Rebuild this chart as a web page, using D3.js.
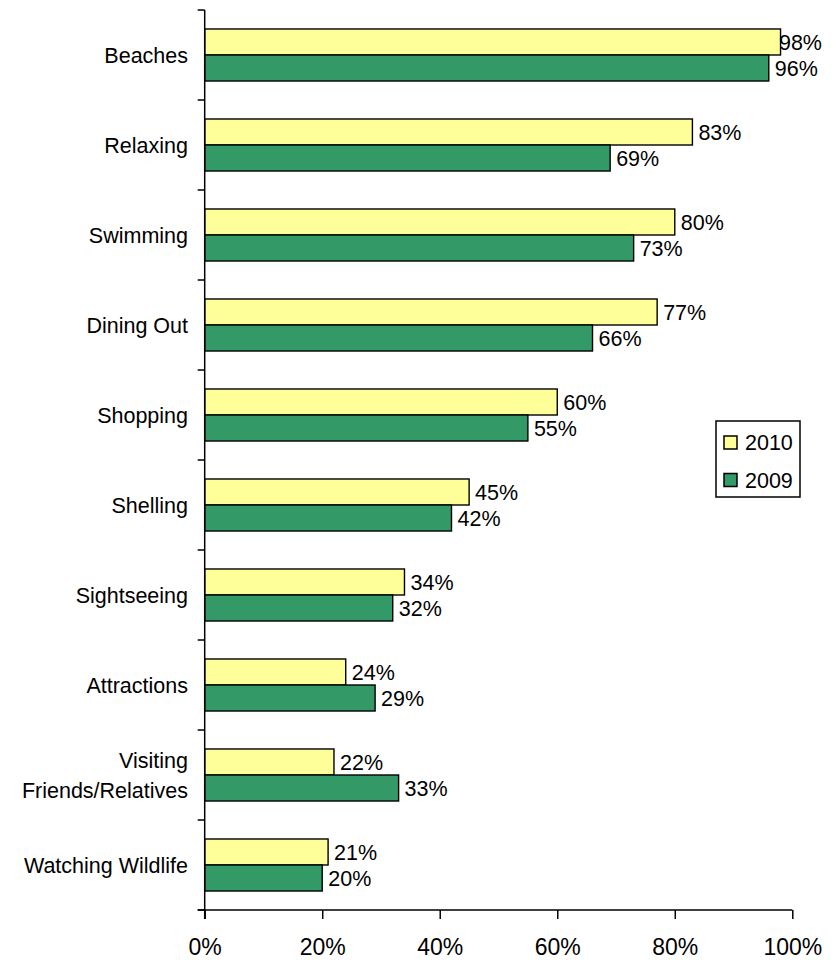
<!DOCTYPE html>
<html>
<head>
<meta charset="utf-8">
<script src="https://cdn.jsdelivr.net/npm/d3@7/dist/d3.min.js"></script>
<style>
  html, body { margin: 0; padding: 0; background: #fff; }
  svg { display: block; font-family: "Liberation Sans", Arial, sans-serif; }
</style>
</head>
<body>
<svg id="chart" width="836" height="960"></svg>
<script>
// Activities, top to bottom
const categories = [
  "Beaches", "Relaxing", "Swimming", "Dining Out", "Shopping",
  "Shelling", "Sightseeing", "Attractions", "Visiting\nFriends/Relatives", "Watching Wildlife"
];
const seriesNames = ["2010", "2009"];
const values2010 = [98, 83, 80, 77, 60, 45, 34, 24, 22, 21];
const values2009 = [96, 69, 73, 66, 55, 42, 32, 29, 33, 20];
const xTickValues = [0, 20, 40, 60, 80, 100];
const seriesColors = { "2010": "#FFFF99", "2009": "#339966" };

const svg = d3.select("#chart");
const plotLeft = 204.7, plotRight = 792.3, plotTop = 10, plotBottom = 910;
const labelSize = 21.5;

const x = d3.scaleLinear().domain([0, 100]).range([plotLeft, plotRight]);
const y0 = d3.scaleBand().domain(categories).range([plotTop, plotBottom])
  .paddingInner(0.422).paddingOuter(0.211);
const y1 = d3.scaleBand().domain(seriesNames).range([0, y0.bandwidth()]);

const rows = categories.map((c, i) => ({
  cat: c,
  vals: [
    { series: "2010", value: values2010[i] },
    { series: "2009", value: values2009[i] }
  ]
}));

// Bars
const groups = svg.append("g").selectAll("g").data(rows).join("g")
  .attr("transform", d => `translate(0,${y0(d.cat)})`);

groups.selectAll("rect").data(d => d.vals).join("rect")
  .attr("x", x(0))
  .attr("y", d => y1(d.series))
  .attr("width", d => x(d.value) - x(0))
  .attr("height", y1.bandwidth())
  .attr("fill", d => seriesColors[d.series])
  .attr("stroke", "#000")
  .attr("stroke-width", 1.4);

// Value labels (kept inside the chart's right edge)
groups.selectAll("text").data(d => d.vals).join("text")
  .attr("y", d => y1(d.series) + y1.bandwidth() / 2)
  .attr("dy", "0.35em")
  .attr("font-size", labelSize)
  .attr("fill", "#000")
  .text(d => d.value + "%")
  .each(function(d) {
    const w = this.getComputedTextLength();
    const xPos = Math.min(x(d.value) + 6, 822 - w);
    d3.select(this).attr("x", xPos);
  });

// Y axis: ticks at category boundaries
const yAxis = svg.append("g");
yAxis.append("line")
  .attr("x1", plotLeft).attr("x2", plotLeft)
  .attr("y1", plotTop).attr("y2", plotBottom + 9)
  .attr("stroke", "#000").attr("stroke-width", 1.5);
const boundaries = d3.range(categories.length + 1).map(i => plotTop + i * y0.step());
yAxis.selectAll("line.tick").data(boundaries).join("line")
  .attr("class", "tick")
  .attr("x1", plotLeft - 7).attr("x2", plotLeft)
  .attr("y1", d => d).attr("y2", d => d)
  .attr("stroke", "#000").attr("stroke-width", 1.5);

// Category labels
const catLabels = svg.append("g").selectAll("text").data(categories).join("text")
  .attr("text-anchor", "end")
  .attr("font-size", labelSize)
  .attr("fill", "#000");
catLabels.each(function(c) {
  const lines = c.split("\n");
  const mid = y0(c) + y0.bandwidth() / 2;
  const lh = 30;
  d3.select(this).selectAll("tspan").data(lines).join("tspan")
    .attr("x", 188)
    .attr("y", (l, i) => mid + (i - (lines.length - 1) / 2) * lh)
    .attr("dy", "0.35em")
    .text(l => l);
});

// X axis
const xAxis = svg.append("g").attr("transform", `translate(0,${plotBottom})`)
  .call(d3.axisBottom(x).tickValues(xTickValues).tickSize(9).tickPadding(0)
    .tickFormat(d => d + "%"));
xAxis.select(".domain").attr("d", `M${plotLeft - 7},0H${plotRight}`).attr("stroke-width", 1.5);
xAxis.selectAll(".tick line").attr("stroke-width", 1.5);
xAxis.selectAll(".tick text")
  .attr("font-family", "'Liberation Sans', Arial, sans-serif")
  .attr("font-size", 23)
  .attr("fill", "#000")
  .attr("dy", null)
  .attr("y", 45);

// Legend
const legend = svg.append("g").attr("transform", "translate(716,421)");
legend.append("rect")
  .attr("width", 84).attr("height", 76)
  .attr("fill", "#fff").attr("stroke", "#000").attr("stroke-width", 1.5);
const items = legend.selectAll("g").data(seriesNames).join("g")
  .attr("transform", (d, i) => `translate(8,${15 + i * 37.5})`);
items.append("rect")
  .attr("width", 13).attr("height", 13)
  .attr("fill", d => seriesColors[d])
  .attr("stroke", "#000").attr("stroke-width", 1.5);
items.append("text")
  .attr("x", 21).attr("y", 6.5).attr("dy", "0.35em")
  .attr("font-size", labelSize).attr("fill", "#000")
  .text(d => d);
</script>
</body>
</html>
